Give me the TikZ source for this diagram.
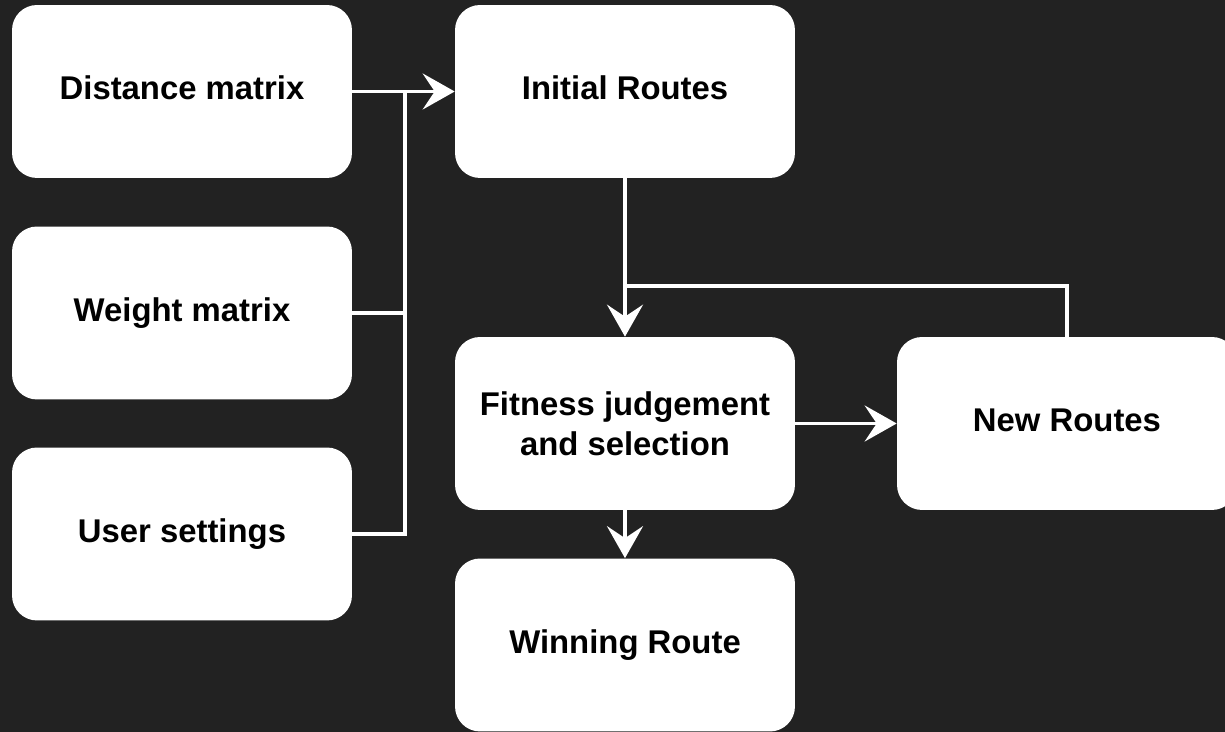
\documentclass[tikz,border=0pt]{standalone}
\usepackage{fontspec}
\setmainfont{Liberation Sans}
\usetikzlibrary{arrows.meta}
\definecolor{canvas}{HTML}{222222}
\tikzset{
  stagebox/.style={fill=white, rounded corners=0.5cm, minimum width=6.8cm,
    minimum height=3.46cm, inner sep=0pt, align=center, text=black,
    font=\fontsize{18.7}{22.8}\selectfont\bfseries},
  link/.style={draw=white, line width=2.1pt},
  flow/.style={link, -{Stealth[length=0.64cm, width=0.72cm, inset=0.24cm]}}
}
\begin{document}
\begin{tikzpicture}[x=0.02cm, y=-0.02cm]
  \clip (0,0) rectangle (1225,732);
  \fill[canvas] (0,0) rectangle (1225,732);

  % input data
  \node[stagebox] (dist)   at (182,91.5) {Distance matrix\vphantom{g}};
  \node[stagebox] (weight) at (182,313)  {Weight matrix};
  \node[stagebox] (user)   at (182,534)  {User settings};

  % genetic algorithm stages
  \node[stagebox] (init) at (625,91.5)  {Initial Routes\vphantom{g}};
  \node[stagebox] (fit)  at (625,423.5) {Fitness judgement\\and selection};
  \node[stagebox] (new)  at (1067,423.5) {New Routes\vphantom{g}};
  \node[stagebox] (win)  at (625,645)   {Winning Route};

  % junction points
  \coordinate (join) at (405,91.5);
  \coordinate (loop) at (625,286);

  % inputs merge into the initial population
  \draw[link] (weight.east) -| (join);
  \draw[link] (user.east) -| (join);
  \draw[flow] (dist.east) -- (init.west);

  % main loop
  \draw[flow] (init.south) -- (fit.north);
  \draw[flow] (fit.east) -- (new.west);
  \draw[link] (new.north) |- (loop);
  \draw[flow] (fit.south) -- (win.north);
\end{tikzpicture}
\end{document}
